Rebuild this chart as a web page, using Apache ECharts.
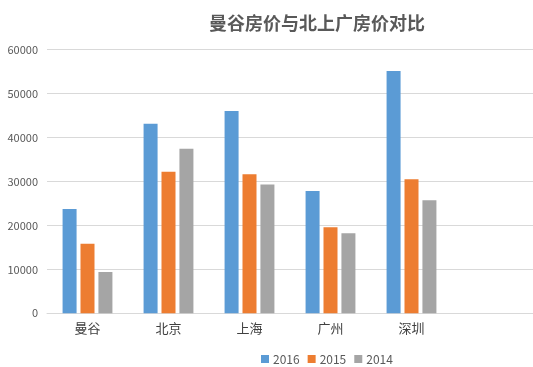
<!DOCTYPE html>
<html><head><meta charset="utf-8">
<script src="https://cdn.jsdelivr.net/npm/echarts@6/dist/echarts.min.js"></script>
<style>html,body{margin:0;padding:0;background:#fff}#c{width:533px;height:367px}</style>
</head><body><div id="c"></div>
<script>
const categories = ['曼谷', '北京', '上海', '广州', '深圳', ''];
const s2016 = [23700, 43100, 46000, 27800, 55100, null];
const s2015 = [15800, 32200, 31600, 19600, 30500, null];
const s2014 = [9400, 37400, 29300, 18200, 25700, null];
const seriesNames = ['2016', '2015', '2014'];
const yTicks = [0, 10000, 20000, 30000, 40000, 50000, 60000];

const colors = ['#5b9bd5', '#ed7d31', '#a5a5a5'];
const chart = echarts.init(document.getElementById('c'), null, {renderer: 'canvas'});
const font = '"Noto Sans CJK SC", "Microsoft YaHei", sans-serif';
const mk = (name, data, i) => ({
  name, type: 'bar', data, barWidth: 14, barGap: '28%',
  itemStyle: {color: colors[i]}
});
chart.setOption({
  animation: false,
  textStyle: {fontFamily: font},
  title: {
    text: '曼谷房价与北上广房价对比', left: 312, top: 9, textAlign: 'center',
    textStyle: {fontSize: 18, fontWeight: 'bold', color: '#595959', fontFamily: font}
  },
  legend: {
    data: seriesNames, left: 256, top: 348, itemWidth: 8, itemHeight: 8, itemGap: 8,
    icon: 'rect', textStyle: {fontSize: 12, color: '#595959', fontFamily: font, padding: [0,0,0,-1]}
  },
  grid: {left: 47, top: 49.5, width: 489, height: 263.8},
  xAxis: {
    type: 'category', data: categories,
    axisLine: {lineStyle: {color: '#d9d9d9'}}, axisTick: {show: false},
    axisLabel: {fontSize: 13, color: '#404040', margin: 8, fontFamily: font}
  },
  yAxis: {
    type: 'value', min: yTicks[0], max: yTicks[yTicks.length-1], interval: 10000,
    axisLine: {show: false}, axisTick: {show: false},
    axisLabel: {fontSize: 11, color: '#595959', margin: 9, fontFamily: font, formatter: v => String(v)},
    splitLine: {lineStyle: {color: '#d9d9d9'}}
  },
  series: [mk(seriesNames[0], s2016, 0), mk(seriesNames[1], s2015, 1), mk(seriesNames[2], s2014, 2)]
});
</script></body></html>
